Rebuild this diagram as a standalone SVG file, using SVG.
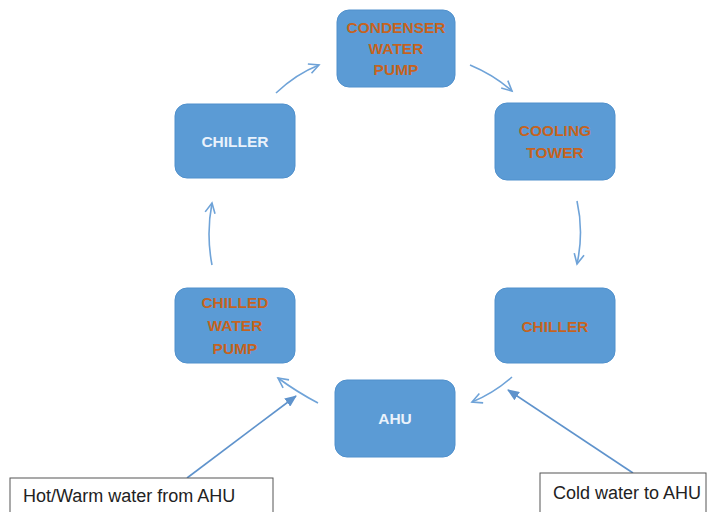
<svg xmlns="http://www.w3.org/2000/svg" width="708" height="512" viewBox="0 0 708 512">
<style>
.box{fill:#5B9BD5;stroke:#5090CC;stroke-width:1}
.t{font-family:"Liberation Sans",Arial,sans-serif;font-weight:bold;font-size:15.5px;text-anchor:middle}
.or{fill:#C5631F}
.wh{fill:#EAF2FB}
.arr{fill:none;stroke:#6FA3D8;stroke-width:1.6;marker-end:url(#open)}
.ln{fill:none;stroke:#5F93CC;stroke-width:1.6;marker-end:url(#solid)}
.lbl{fill:#fff;stroke:#555;stroke-width:1}
.lt{font-family:"Liberation Sans",Arial,sans-serif;font-size:18px;fill:#222}
</style>
<defs>
<marker id="open" markerUnits="userSpaceOnUse" markerWidth="14" markerHeight="14" refX="11" refY="6" orient="auto" viewBox="0 0 14 12">
<path d="M1,1 L11,6 L1,11" fill="none" stroke="#6FA3D8" stroke-width="1.6"/>
</marker>
<marker id="solid" markerUnits="userSpaceOnUse" markerWidth="12" markerHeight="10" refX="11" refY="5" orient="auto" viewBox="0 0 12 10">
<path d="M0,0 L12,5 L0,10 Z" fill="#5F93CC"/>
</marker>
</defs>
<rect width="708" height="512" fill="#fff"/>
<g id="connectors">
<path class="arr" d="M276 93 Q296 74 319 65"/>
<path class="arr" d="M470 65 Q494 75 512 91"/>
<path class="arr" d="M577 201 Q584 232 577 264"/>
<path class="arr" d="M512 377 Q494 393 472 402"/>
<path class="arr" d="M318 403 Q297 392 278 378"/>
<path class="arr" d="M212 265 Q206 234 212 203"/>
<path class="ln" d="M187 478 L296 396"/>
<path class="ln" d="M633 473 L508 390"/>
</g>
<g id="condenser-water-pump">
<rect class="box" x="337" y="10" width="118" height="77" rx="12"/>
<text class="t or" x="396" y="33">CONDENSER</text>
<text class="t or" x="396" y="54">WATER</text>
<text class="t or" x="396" y="75">PUMP</text>
</g>
<g id="chiller-left">
<rect class="box" x="175" y="104" width="120" height="74" rx="12"/>
<text class="t wh" x="235" y="147">CHILLER</text>
</g>
<g id="cooling-tower">
<rect class="box" x="495" y="103" width="120" height="77" rx="12"/>
<text class="t or" x="555" y="136">COOLING</text>
<text class="t or" x="555" y="158">TOWER</text>
</g>
<g id="chilled-water-pump">
<rect class="box" x="175" y="288" width="120" height="75" rx="12"/>
<text class="t or" x="235" y="308">CHILLED</text>
<text class="t or" x="235" y="331">WATER</text>
<text class="t or" x="235" y="354">PUMP</text>
</g>
<g id="chiller-right">
<rect class="box" x="495" y="288" width="120" height="75" rx="12"/>
<text class="t or" x="555" y="332">CHILLER</text>
</g>
<g id="ahu">
<rect class="box" x="335" y="380" width="120" height="77" rx="12"/>
<text class="t wh" x="395" y="424">AHU</text>
</g>
<g id="label-hot">
<rect class="lbl" x="10" y="478" width="263" height="45"/>
<text class="lt" x="23" y="502">Hot/Warm water from AHU</text>
</g>
<g id="label-cold">
<rect class="lbl" x="540" y="473" width="166" height="50"/>
<text class="lt" x="553" y="499">Cold water to AHU</text>
</g>
</svg>
